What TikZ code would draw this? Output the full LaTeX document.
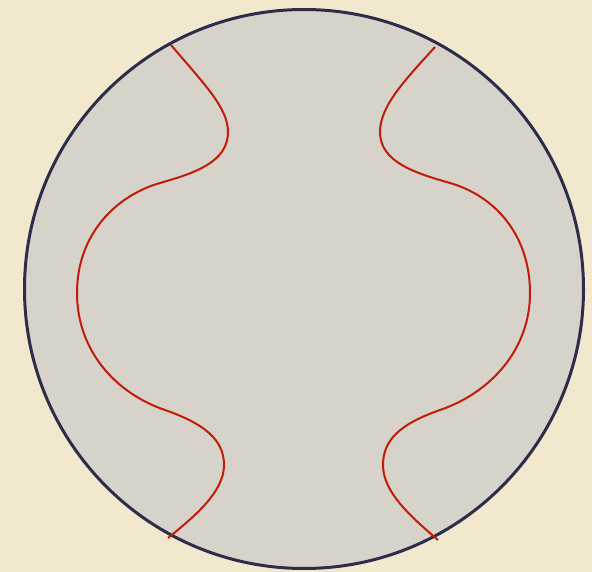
\documentclass[tikz,border=0pt]{standalone}
\definecolor{bgbeige}{HTML}{F2E8CE}
\definecolor{diskfill}{HTML}{D7D3CA}
\definecolor{rimnavy}{HTML}{2D2D4B}
\definecolor{curvered}{HTML}{C01C0A}
\begin{document}
\begin{tikzpicture}[x=1pt,y=-1pt,
  rim/.style={draw=rimnavy,line width=3pt,fill=diskfill},
  redline/.style={draw=curvered,line width=2pt}]
\fill[bgbeige] (0,0) rectangle (592,572);
\useasboundingbox (0,0) rectangle (592,572);
\path[rim] (304,289) circle[radius=279.5];
\draw[redline] (171,45) .. controls (205,85) and (228,108) .. (228,132)
  .. controls (228,162) and (195,173) .. (160,183)
  .. controls (115,196) and (77,235) .. (77,293)
  .. controls (77,350) and (115,393) .. (165,410)
  .. controls (205,424) and (224,440) .. (224,465)
  .. controls (224,492) and (195,516) .. (168,538);
\draw[redline] (435,47) .. controls (405,80) and (380,106) .. (380,132)
  .. controls (380,162) and (415,173) .. (450,183)
  .. controls (495,196) and (530,235) .. (530,293)
  .. controls (530,350) and (490,393) .. (440,410)
  .. controls (400,424) and (383,440) .. (383,465)
  .. controls (383,492) and (410,516) .. (438,540);
\end{tikzpicture}
\end{document}
